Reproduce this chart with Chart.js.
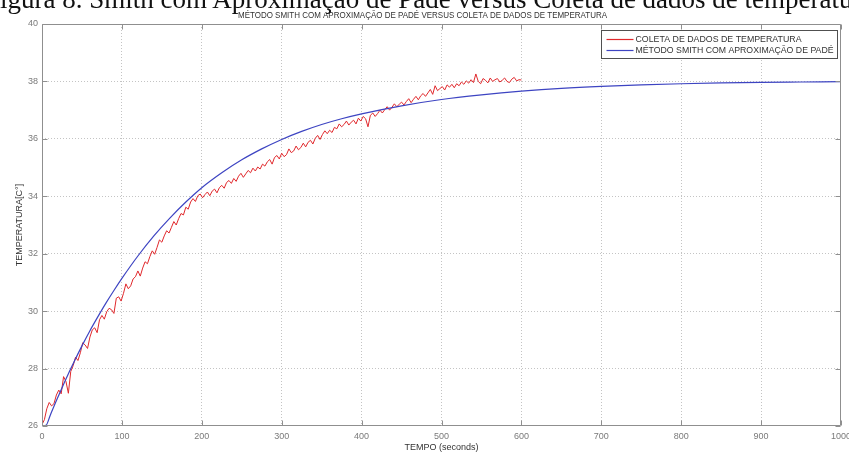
<!DOCTYPE html>
<html>
<head>
<meta charset="utf-8">
<script src="https://cdn.jsdelivr.net/npm/chart.js@4.4.0/dist/chart.umd.min.js"></script>
<style>
html,body{margin:0;padding:0;background:#fff;}
#wrap{position:relative;width:849px;height:453px;overflow:hidden;background:#fff;}
#cap{position:absolute;left:-15px;top:-14px;font-family:"Liberation Serif","Times New Roman",serif;font-size:27px;line-height:27px;white-space:nowrap;color:#111;z-index:2;}
canvas{position:absolute;left:0;top:0;}
</style>
</head>
<body>
<div id="wrap">
<canvas id="c" width="849" height="453"></canvas>
<div id="cap">Figura 8. Smith com Aproximação de Padé versus Coleta de dados de temperatura</div>
</div>
<script>
// ---- data ----
const chartTitle = "MÉTODO SMITH COM APROXIMAÇÃO DE PADÉ VERSUS COLETA DE DADOS DE TEMPERATURA";
const xTitle = "TEMPO (seconds)";
const yTitle = "TEMPERATURA[C°]";
const redLabel = "COLETA DE DADOS DE TEMPERATURA";
const blueLabel = "MÉTODO SMITH COM APROXIMAÇÃO DE PADÉ";

const xTickValues = [0,100,200,300,400,500,600,700,800,900,1000];
const yTickValues = [26,28,30,32,34,36,38,40];

// measured temperature, one sample every redStep seconds (0 .. 600 s)
const redStep = 3;
const redTemp = [
 26.05, 26.22, 26.6, 26.82, 26.7, 26.78, 27.08, 27.25, 27.12, 27.72,
 27.55, 27.14, 27.9, 28.1, 28.4, 28.28, 28.55, 28.9, 28.82, 28.7,
 29.1, 29.35, 29.42, 29.25, 29.7, 29.85, 29.72, 29.98, 30.1, 30.05,
 29.92, 30.45, 30.5, 30.35, 30.62, 30.95, 30.78, 30.88, 31.12, 31.2,
 31.4, 31.22, 31.5, 31.72, 31.65, 31.9, 32.1, 31.98, 32.22, 32.48,
 32.4, 32.62, 32.8, 32.72, 32.92, 33.12, 33.0, 33.22, 33.4, 33.35,
 33.62, 33.55, 33.8, 33.92, 33.82, 34.02, 34.08, 33.95, 34.06, 34.15,
 34.02, 34.18, 34.25, 34.12, 34.3, 34.38, 34.28, 34.48, 34.55, 34.45,
 34.62, 34.52, 34.7, 34.8, 34.66, 34.78, 34.9, 34.82, 34.98, 34.88,
 35.02, 34.95, 35.12, 35.05, 35.2, 35.28, 35.12, 35.35, 35.42, 35.3,
 35.5, 35.38, 35.45, 35.65, 35.52, 35.58, 35.75, 35.62, 35.7, 35.85,
 35.72, 35.88, 35.95, 35.82, 36.02, 36.12, 35.98, 36.15, 36.28, 36.18,
 36.3, 36.22, 36.4, 36.35, 36.52, 36.42, 36.5, 36.62, 36.48, 36.58,
 36.65, 36.52, 36.72, 36.62, 36.78, 36.7, 36.42, 36.82, 36.9, 36.78,
 36.88, 37.0, 36.9, 37.02, 37.12, 37.0, 37.1, 37.22, 37.12, 37.2,
 37.28, 37.18, 37.3, 37.4, 37.26, 37.38, 37.48, 37.36, 37.5, 37.58,
 37.48, 37.6, 37.72, 37.55, 37.85, 37.68, 37.75, 37.82, 37.7, 37.88,
 37.8, 37.9, 37.78, 37.92, 37.85, 37.98, 37.9, 38.02, 37.94, 38.06,
 37.96, 38.26, 38.0, 37.92, 38.1, 38.04, 37.95, 38.12, 38.0, 38.06,
 38.1, 37.98, 38.04, 38.12, 38.0, 37.96, 38.08, 38.14, 38.02, 38.06,
 38.05
];

// model response (Smith method with Padé approximation)
const blueTime = [0,5,10,15,20,30,40,50,60,70,80,90,100,120,140,160,180,200,225,250,275,300,325,350,375,400,450,500,550,600,650,700,750,800,850,900,950,1000];
const blueTemp = [26.00,26.02,26.35,26.69,27.01,27.64,28.23,28.79,29.32,29.81,30.28,30.72,31.14,31.92,32.62,33.24,33.80,34.30,34.82,35.27,35.65,35.98,36.26,36.50,36.70,36.87,37.15,37.37,37.53,37.66,37.76,37.83,37.88,37.92,37.95,37.97,37.98,37.99];

// ---- styles ----
const FONT = '"Liberation Sans",Arial,sans-serif';
const RED = '#e0282c';
const BLUE = '#3d44c2';

const redPoints = redTemp.map((v,i)=>({x:i*redStep, y:v}));
const bluePoints = blueTemp.map((v,i)=>({x:blueTime[i], y:v}));

function fitText(ctx, text, x, y, width){
  const w = ctx.measureText(text).width;
  ctx.save();
  ctx.translate(x, y);
  ctx.scale(width / w, 1);
  ctx.fillText(text, 0, 0);
  ctx.restore();
}

const framePlugin = {
  id:'frame',
  afterDatasetsDraw(chart){
    const {ctx, chartArea:a, scales:{x,y}} = chart;
    ctx.save();
    ctx.strokeStyle = '#8f8f8f';
    ctx.lineWidth = 1;
    ctx.beginPath();
    const L = Math.round(a.left)+0.5, R = Math.round(a.right)-0.5, T = Math.round(a.top)+0.5, B = Math.round(a.bottom)-0.5;
    ctx.moveTo(L,T); ctx.lineTo(R,T); ctx.lineTo(R,B); ctx.lineTo(L,B); ctx.closePath();
    x.ticks.forEach(t=>{
      const p = Math.round(x.getPixelForValue(t.value))+0.5;
      ctx.moveTo(p,B); ctx.lineTo(p,B-5);
      ctx.moveTo(p,T); ctx.lineTo(p,T+5);
    });
    y.ticks.forEach(t=>{
      const p = Math.round(y.getPixelForValue(t.value))+0.5;
      ctx.moveTo(L,p); ctx.lineTo(L+5,p);
      ctx.moveTo(R,p); ctx.lineTo(R-5,p);
    });
    ctx.stroke();
    ctx.restore();
  },
  afterDraw(chart){
    const {ctx, chartArea:a} = chart;
    // title
    ctx.save();
    ctx.font = '9px ' + FONT;
    ctx.fillStyle = '#333';
    ctx.textBaseline = 'middle';
    ctx.textAlign = 'left';
    fitText(ctx, chartTitle, 238, 16, 369);
    ctx.restore();
    // legend
    const items = [{label:redLabel, color:RED, width:166}, {label:blueLabel, color:BLUE, width:198}];
    const right = Math.round(a.right) - 3.5, top = Math.round(a.top) + 6.5;
    const left = right - 236, h = 28;
    ctx.save();
    ctx.fillStyle = '#fff';
    ctx.fillRect(left, top, right-left, h);
    ctx.strokeStyle = '#505050';
    ctx.lineWidth = 1;
    ctx.strokeRect(left, top, right-left, h);
    ctx.font = '9px ' + FONT;
    ctx.textBaseline = 'middle';
    ctx.textAlign = 'left';
    items.forEach((d,i)=>{
      const yy = Math.round(top + 8.5 + i*11) + 0.5;
      ctx.strokeStyle = d.color;
      ctx.lineWidth = 1.2;
      ctx.beginPath(); ctx.moveTo(left+5, yy); ctx.lineTo(left+32, yy); ctx.stroke();
      ctx.fillStyle = '#333';
      fitText(ctx, d.label, left+34, yy, d.width);
    });
    ctx.restore();
  }
};

const gridColor = (ctx)=> (ctx.index === 0 || ctx.index === ctx.chart.scales[ctx.scale.id].ticks.length-1) ? 'rgba(0,0,0,0)' : '#c4c4c4';

new Chart(document.getElementById('c'), {
  type:'line',
  data:{
    datasets:[
      {label:blueLabel, data:bluePoints, borderColor:BLUE, borderWidth:1.2, pointRadius:0, fill:false, cubicInterpolationMode:'monotone', order:0},
      {label:redLabel, data:redPoints, borderColor:RED, borderWidth:1, pointRadius:0, fill:false, tension:0, order:1}
    ]
  },
  options:{
    responsive:false,
    animation:false,
    events:[],
    layout:{padding:{left:0,right:8,top:24,bottom:0}},
    plugins:{
      legend:{display:false},
      tooltip:{enabled:false},
      title:{display:false}
    },
    scales:{
      x:{
        type:'linear', min:0, max:1000,
        afterBuildTicks(s){ s.ticks = xTickValues.map(v=>({value:v})); },
        afterFit(s){ s.height = 27; s.paddingLeft = 0; s.paddingRight = 0; },
        ticks:{color:'#7a7a7a', font:{family:FONT,size:9}, padding:5, maxRotation:0, autoSkip:false, callback:(v)=>String(v)},
        grid:{color:gridColor, lineWidth:1, drawTicks:false},
        border:{display:false, dash:[1,2]},
        title:{display:true, text:xTitle, color:'#333', font:{family:FONT,size:9}, padding:{top:0,bottom:0}}
      },
      y:{
        type:'linear', min:26, max:40,
        afterBuildTicks(s){ s.ticks = yTickValues.map(v=>({value:v})); },
        afterFit(s){ s.width = 42; s.paddingTop = 0; s.paddingBottom = 0; },
        ticks:{color:'#7a7a7a', font:{family:FONT,size:9}, padding:4, autoSkip:false, callback:(v)=>String(v)},
        grid:{color:gridColor, lineWidth:1, drawTicks:false},
        border:{display:false, dash:[1,2]},
        title:{display:true, text:yTitle, color:'#333', font:{family:FONT,size:9}, padding:{top:14,bottom:0}}
      }
    }
  },
  plugins:[framePlugin]
});
</script>
</body>
</html>
